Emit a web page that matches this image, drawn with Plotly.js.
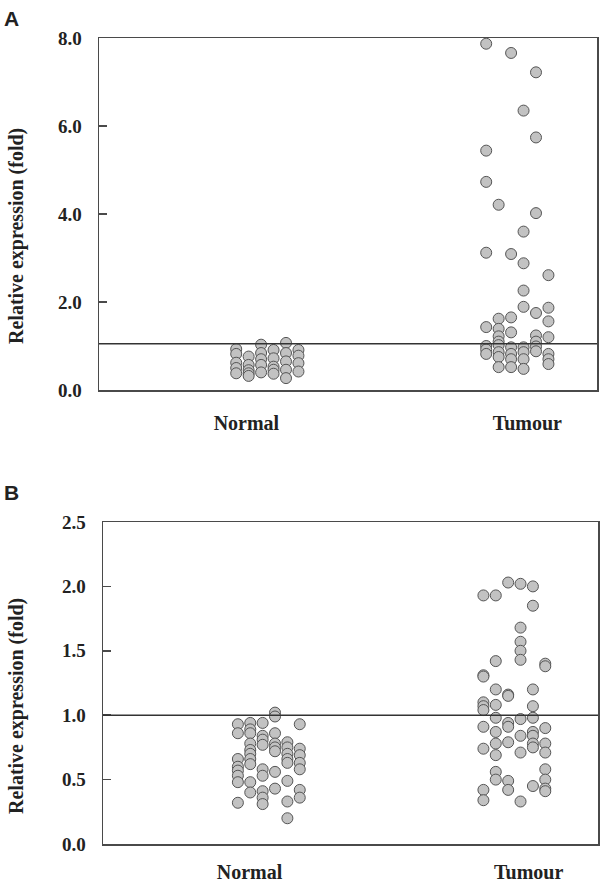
<!DOCTYPE html>
<html>
<head>
<meta charset="utf-8">
<script src="https://cdn.plot.ly/plotly-3.0.1.min.js"></script>
<style>
  body { margin: 0; background: #fff; }
  #chart { width: 600px; height: 884px; }
</style>
</head>
<body>
<div id="chart"></div>
<script>
// groups and where they sit on the x axis (0-100 scale)
var groups = ['Normal', 'Tumour'];
var groupTicks = [29.6, 86.0];
var groupCentersA = [33.8, 84.0];
var groupCentersB = [33.5, 83.1];
var colSpacing = 2.5;

// panel A: relative expression (fold), column index is the jitter column
var normalA_val = [0.93, 0.82, 0.62, 0.50, 0.38,
                   0.76, 0.57, 0.45, 0.38, 0.32,
                   1.03, 0.84, 0.70, 0.57, 0.40,
                   0.91, 0.72, 0.53, 0.46, 0.37,
                   1.07, 0.84, 0.65, 0.46, 0.27,
                   0.91, 0.78, 0.61, 0.42];
var normalA_col = [0, 0, 0, 0, 0,
                   1, 1, 1, 1, 1,
                   2, 2, 2, 2, 2,
                   3, 3, 3, 3, 3,
                   4, 4, 4, 4, 4,
                   5, 5, 5, 5];

var tumourA_val = [7.87, 5.44, 4.73, 3.12, 1.43, 1.00, 0.92, 0.82,
                   4.21, 1.62, 1.39, 1.22, 1.10, 1.02, 0.86, 0.75, 0.52,
                   7.66, 3.09, 1.65, 1.31, 0.97, 0.82, 0.70, 0.52,
                   6.35, 3.60, 2.88, 2.26, 1.89, 0.97, 0.86, 0.70, 0.48,
                   7.22, 5.74, 4.02, 1.75, 1.24, 1.10, 0.99, 0.88,
                   2.61, 1.87, 1.56, 1.20, 0.82, 0.70, 0.59];
var tumourA_col = [0, 0, 0, 0, 0, 0, 0, 0,
                   1, 1, 1, 1, 1, 1, 1, 1, 1,
                   2, 2, 2, 2, 2, 2, 2, 2,
                   3, 3, 3, 3, 3, 3, 3, 3, 3,
                   4, 4, 4, 4, 4, 4, 4, 4,
                   5, 5, 5, 5, 5, 5, 5];

// panel B
var normalB_val = [0.93, 0.86, 0.66, 0.60, 0.57, 0.53, 0.48, 0.32,
                   0.94, 0.89, 0.86, 0.78, 0.73, 0.70, 0.66, 0.62, 0.48, 0.40,
                   0.94, 0.84, 0.81, 0.77, 0.58, 0.53, 0.41, 0.36, 0.31,
                   1.02, 0.99, 0.86, 0.78, 0.75, 0.72, 0.56, 0.43,
                   0.79, 0.75, 0.70, 0.66, 0.63, 0.49, 0.33, 0.20,
                   0.93, 0.74, 0.69, 0.63, 0.58, 0.42, 0.36];
var normalB_col = [0, 0, 0, 0, 0, 0, 0, 0,
                   1, 1, 1, 1, 1, 1, 1, 1, 1, 1,
                   2, 2, 2, 2, 2, 2, 2, 2, 2,
                   3, 3, 3, 3, 3, 3, 3, 3,
                   4, 4, 4, 4, 4, 4, 4, 4,
                   5, 5, 5, 5, 5, 5, 5];

var tumourB_val = [1.93, 1.31, 1.30, 1.10, 1.07, 1.04, 0.91, 0.74, 0.42, 0.34,
                   1.93, 1.42, 1.20, 1.08, 0.98, 0.87, 0.78, 0.69, 0.56, 0.50,
                   2.03, 1.16, 1.15, 0.94, 0.91, 0.79, 0.49, 0.42,
                   2.02, 1.68, 1.57, 1.50, 1.43, 0.97, 0.84, 0.71, 0.33,
                   2.00, 1.85, 1.20, 1.07, 0.98, 0.87, 0.84, 0.78, 0.75, 0.45,
                   1.40, 1.38, 0.90, 0.78, 0.71, 0.58, 0.50, 0.43, 0.41];
var tumourB_col = [0, 0, 0, 0, 0, 0, 0, 0, 0, 0,
                   1, 1, 1, 1, 1, 1, 1, 1, 1, 1,
                   2, 2, 2, 2, 2, 2, 2, 2,
                   3, 3, 3, 3, 3, 3, 3, 3, 3,
                   4, 4, 4, 4, 4, 4, 4, 4, 4, 4,
                   5, 5, 5, 5, 5, 5, 5, 5, 5];

var refLineA = 1.05;
var refLineB = 1.0;

var ticksA = [0, 2, 4, 6, 8];
var ticksB = [0, 0.5, 1.0, 1.5, 2.0, 2.5];

var W = 600, H = 884;
var serif = 'Liberation Serif, Times New Roman, serif';
var axisColor = '#4a4a4a';

function jitter(cols, center) {
  return cols.map(function (c) { return center + (c - 2.5) * colSpacing; });
}

var marker = {
  size: 11,
  color: '#c2c2c2',
  line: { color: '#555555', width: 1 }
};

function dots(vals, cols, center, xa, ya) {
  return {
    x: jitter(cols, center),
    y: vals,
    xaxis: xa,
    yaxis: ya,
    type: 'scatter',
    mode: 'markers',
    marker: marker,
    hoverinfo: 'y'
  };
}

var data = [
  dots(normalA_val, normalA_col, groupCentersA[0], 'x', 'y'),
  dots(tumourA_val, tumourA_col, groupCentersA[1], 'x', 'y'),
  dots(normalB_val, normalB_col, groupCentersB[0], 'x2', 'y2'),
  dots(tumourB_val, tumourB_col, groupCentersB[1], 'x2', 'y2')
];

function xAxis(domain, anchor, standoff) {
  return {
    domain: domain,
    anchor: anchor,
    range: [0, 100],
    tickvals: groupTicks,
    ticktext: groups,
    ticks: '',
    showgrid: false,
    zeroline: false,
    showline: true,
    mirror: true,
    linecolor: axisColor,
    linewidth: 1.5,
    ticklabelstandoff: standoff,
    tickfont: { family: serif, size: 20, weight: 'bold', color: '#222' }
  };
}

function yAxis(domain, anchor, range, tickvals) {
  return {
    domain: domain,
    anchor: anchor,
    range: range,
    tickvals: tickvals,
    tickformat: '.1f',
    ticks: 'inside',
    ticklen: 8,
    tickcolor: axisColor,
    tickwidth: 1.5,
    showgrid: false,
    zeroline: false,
    showline: true,
    mirror: true,
    linecolor: axisColor,
    linewidth: 1.5,
    ticklabelstandoff: 12,
    tickfont: { family: serif, size: 19, weight: 'bold', color: '#222' }
  };
}

var titleFont = { family: serif, size: 20, weight: 'bold', color: '#222' };
var letterFont = { family: 'Liberation Sans, Arial, sans-serif', size: 21, weight: 'bold', color: '#222' };

var layout = {
  width: W,
  height: H,
  margin: { l: 0, r: 0, t: 0, b: 0 },
  paper_bgcolor: '#fff',
  plot_bgcolor: '#fff',
  showlegend: false,
  xaxis: xAxis([99 / W, 597 / W], 'y', 14),
  yaxis: yAxis([(H - 390) / H, (H - 38) / H], 'x', [0, 8], ticksA),
  xaxis2: xAxis([103 / W, 598 / W], 'y2', 9),
  yaxis2: yAxis([(H - 844) / H, (H - 522) / H], 'x2', [0, 2.5], ticksB),
  shapes: [
    { type: 'line', xref: 'x domain', yref: 'y', x0: 0, x1: 1, y0: refLineA, y1: refLineA,
      line: { color: '#333', width: 1.5 } },
    { type: 'line', xref: 'x2 domain', yref: 'y2', x0: 0, x1: 1, y0: refLineB, y1: refLineB,
      line: { color: '#333', width: 1.5 } }
  ],
  annotations: [
    { text: 'A', xref: 'paper', yref: 'paper', x: 11 / W, y: (H - 18) / H,
      xanchor: 'center', yanchor: 'middle', showarrow: false, font: letterFont },
    { text: 'B', xref: 'paper', yref: 'paper', x: 11 / W, y: (H - 492) / H,
      xanchor: 'center', yanchor: 'middle', showarrow: false, font: letterFont },
    { text: 'Relative expression (fold)', xref: 'paper', yref: 'paper', x: 16 / W, y: (H - 236) / H,
      xanchor: 'center', yanchor: 'middle', textangle: -90, showarrow: false, font: titleFont },
    { text: 'Relative expression (fold)', xref: 'paper', yref: 'paper', x: 16 / W, y: (H - 706) / H,
      xanchor: 'center', yanchor: 'middle', textangle: -90, showarrow: false, font: titleFont }
  ]
};

Plotly.newPlot('chart', data, layout, { displayModeBar: false, staticPlot: true });
</script>
</body>
</html>
